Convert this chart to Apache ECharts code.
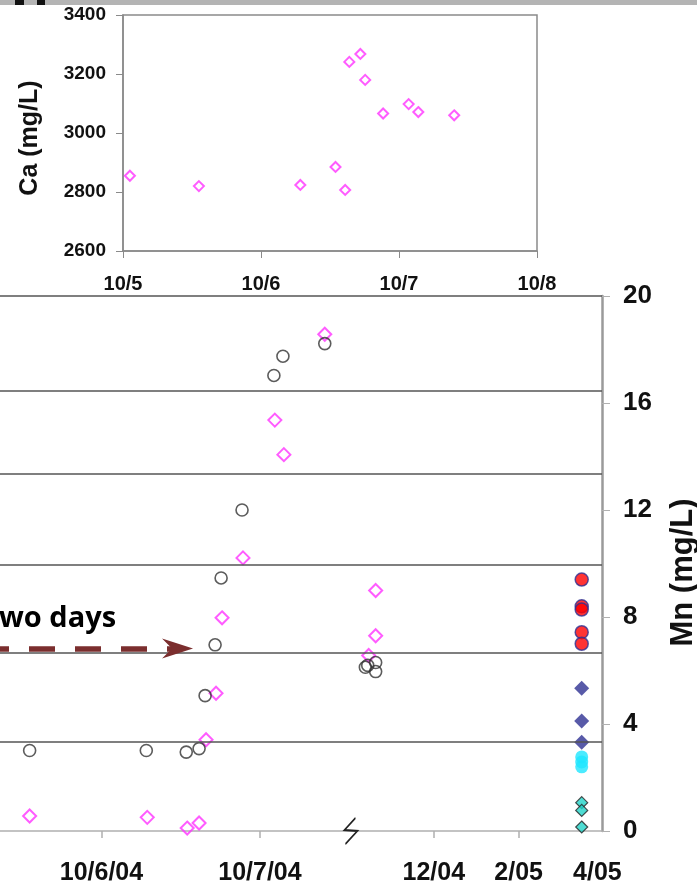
<!DOCTYPE html>
<html>
<head>
<meta charset="utf-8">
<script src="https://cdn.jsdelivr.net/npm/echarts@6/dist/echarts.min.js"></script>
<style>
  html, body { margin: 0; padding: 0; background: #fff; }
  #chart { width: 697px; height: 890px; }
</style>
</head>
<body>
<div id="chart"></div>
<script>
// ---------- Top chart: Ca (mg/L) vs date (day of October 2004) ----------
const caDates  = [5.05, 5.55, 6.285, 6.54, 6.61, 6.64, 6.72, 6.755, 6.885, 7.07, 7.14, 7.40];
const caValues = [2855, 2820, 2824, 2885, 2807, 3241, 3268, 3180, 3066, 3098, 3071, 3060];
const caTickLabels = ['10/5', '10/6', '10/7', '10/8'];

// ---------- Bottom chart: Mn (mg/L), compressed time axis with break ----------
// x in days of October 2004 for the Oct samples; later months are on the compressed part of the axis
const mnCircleDates  = [5.547, 6.283, 6.535, 6.616, 6.654, 6.717, 6.755, 6.887, 7.088, 7.145, 7.409, 7.665, 7.680, 7.730, 7.730];
const mnCircleValues = [3.01, 3.01, 2.95, 3.08, 5.06, 6.96, 9.46, 12.0, 17.03, 17.75, 18.22, 6.12, 6.19, 6.30, 5.96];
const mnDiamondDates  = [5.547, 6.289, 6.541, 6.616, 6.660, 6.723, 6.761, 6.893, 7.094, 7.151, 7.409, 7.686, 7.730, 7.730];
const mnDiamondValues = [0.56, 0.51, 0.11, 0.30, 3.41, 5.15, 7.97, 10.21, 15.36, 14.07, 18.57, 6.56, 7.30, 8.99];

const apr05Pos = 9.03;  // position of the 4/05 samples on the compressed axis
const redCircleValues   = [9.40, 8.40, 8.28, 7.43, 7.00];
const navyDiamondValues = [5.34, 4.11, 3.32];
const cyanCircleValues  = [2.77, 2.58, 2.40];
const tealDiamondValues = [1.06, 0.77, 0.15];

const mnTickValues = [6, 7, 8.097, 8.632];
const mnLabelValues = [6, 7, 8.097, 8.632, 9.129];
const mnTickLabels = ['10/6/04', '10/7/04', '12/04', '2/05', '4/05'];
const mnAxisBreakAt = 7.574;

const refLines = [20, 16.46, 13.35, 9.96, 6.65, 3.32];
const arrowLevel = 6.82;
const arrowEnd = 6.48;

const pairs = (xs, ys) => xs.map((x, i) => [x, ys[i]]);
const atApr = ys => ys.map(y => [apr05Pos, y]);

const SANS = '"Liberation Sans", Arial, sans-serif';

const chart = echarts.init(document.getElementById('chart'), null, { renderer: 'canvas' });

const option = {
  backgroundColor: '#ffffff',
  animation: false,
  graphic: [
    { type: 'rect', shape: { x: 0, y: 0, width: 697, height: 5 }, style: { fill: '#b4b4b4' }, silent: true },
    { type: 'rect', shape: { x: 15, y: 0, width: 9, height: 5 }, style: { fill: '#111' }, silent: true },
    { type: 'rect', shape: { x: 37, y: 0, width: 8, height: 5 }, style: { fill: '#111' }, silent: true },
    { type: 'text', left: -1, top: 604, style: { text: 'wo days', font: 'bold 29px "Open Sans", sans-serif', fill: '#000' }, silent: true }
  ],
  grid: [
    { left: 123, top: 15, width: 414, height: 236, show: true, borderColor: '#8a8a8a', borderWidth: 1.5, outerBoundsMode: 'none', containLabel: false },
    { left: 0, top: 296, width: 602, height: 535, outerBoundsMode: 'none', containLabel: false }
  ],
  xAxis: [
    {
      type: 'value', gridIndex: 0, min: 5, max: 8, interval: 1,
      axisLine: { show: true, lineStyle: { color: '#8a8a8a', width: 1.5 } },
      axisTick: { show: true, length: 7, lineStyle: { color: '#8a8a8a' } },
      splitLine: { show: false },
      axisLabel: {
        margin: 23, color: '#111', fontFamily: SANS, fontWeight: 'bold', fontSize: 20,
        formatter: v => caTickLabels[Math.round(v - 5)]
      }
    },
    {
      type: 'value', gridIndex: 1, min: 5.36, max: 9.158,
      axisLine: { show: true, lineStyle: { color: '#b0b0b0', width: 1.5 } },
      axisTick: { show: true, length: 7, customValues: mnTickValues, lineStyle: { color: '#b0b0b0', width: 1.5 } },
      splitLine: { show: false },
      axisLabel: {
        customValues: mnLabelValues, margin: 30, color: '#111', fontFamily: SANS, fontWeight: 'bold', fontSize: 25,
        formatter: v => {
          let best = 0;
          mnLabelValues.forEach((t, i) => { if (Math.abs(t - v) < Math.abs(mnLabelValues[best] - v)) best = i; });
          return mnTickLabels[best];
        }
      }
    }
  ],
  yAxis: [
    {
      type: 'value', gridIndex: 0, min: 2600, max: 3400, interval: 200,
      axisLine: { show: true, lineStyle: { color: '#8a8a8a', width: 1.5 } },
      axisTick: { show: true, length: 7, lineStyle: { color: '#8a8a8a' } },
      splitLine: { show: false },
      axisLabel: { margin: 17, color: '#111', fontFamily: SANS, fontWeight: 'bold', fontSize: 19, formatter: v => String(v) },
      name: 'Ca (mg/L)', nameLocation: 'middle', nameGap: 80,
      nameTextStyle: { color: '#111', fontFamily: SANS, fontWeight: 'bold', fontSize: 25, padding: [0, 10, 0, 0] }
    },
    {
      type: 'value', gridIndex: 1, position: 'right', min: 0, max: 20, interval: 4,
      axisLine: { show: true, lineStyle: { color: '#9a9a9a', width: 2.5 } },
      axisTick: { show: true, length: 8, lineStyle: { color: '#b0b0b0' } },
      splitLine: { show: false },
      axisLabel: { margin: 21, color: '#111', fontFamily: SANS, fontWeight: 'bold', fontSize: 26, formatter: v => String(v) },
      name: 'Mn (mg/L)', nameLocation: 'middle', nameGap: 66,
      nameTextStyle: { color: '#111', fontFamily: SANS, fontWeight: 'bold', fontSize: 31, padding: [0, 18, 0, 0] }
    }
  ],
  series: [
    {
      name: 'Ca', type: 'scatter', xAxisIndex: 0, yAxisIndex: 0,
      symbol: 'diamond', symbolSize: 10,
      itemStyle: { color: 'rgba(0,0,0,0)', borderColor: '#ff33ff', borderWidth: 2 },
      data: pairs(caDates, caValues)
    },
    {
      name: 'Mn diamonds', type: 'scatter', xAxisIndex: 1, yAxisIndex: 1,
      symbol: 'diamond', symbolSize: 13,
      itemStyle: { color: 'rgba(0,0,0,0)', borderColor: '#ff33ff', borderWidth: 2 },
      data: pairs(mnDiamondDates, mnDiamondValues),
      markLine: {
        silent: true, symbol: ['none', 'none'], label: { show: false },
        lineStyle: { color: '#555', width: 1.6, type: 'solid' },
        data: refLines.map(v => ({ yAxis: v }))
      }
    },
    {
      name: 'Mn circles', type: 'scatter', xAxisIndex: 1, yAxisIndex: 1,
      symbol: 'circle', symbolSize: 12,
      itemStyle: { color: 'rgba(0,0,0,0)', borderColor: '#333', borderWidth: 1.6 },
      data: pairs(mnCircleDates, mnCircleValues),
      markLine: {
        silent: true, label: { show: false },
        symbol: ['none', 'path://M10,0 L20,31 L10,21 L0,31 Z'], symbolSize: 31, symbolKeepAspect: true,
        lineStyle: { color: '#7b2e2e', width: 5.5, type: [26, 20], dashOffset: 17 },
        itemStyle: { color: '#7b2e2e' },
        data: [[{ coord: [5.36, arrowLevel] }, { coord: [arrowEnd, arrowLevel] }]]
      },
      markPoint: {
        silent: true,
        symbol: 'path://M11,0 L0,12 L13,13 L1,26', symbolSize: [13, 26], symbolKeepAspect: false,
        itemStyle: { color: 'rgba(0,0,0,0)', borderColor: '#222', borderWidth: 1.5 },
        label: { show: false },
        data: [{ coord: [mnAxisBreakAt, 0] }]
      }
    },
    {
      name: 'Red', type: 'scatter', xAxisIndex: 1, yAxisIndex: 1,
      symbol: 'circle', symbolSize: 13,
      itemStyle: { color: '#ff0000', borderColor: '#2e3192', borderWidth: 1.5 },
      data: atApr(redCircleValues)
    },
    {
      name: 'Navy', type: 'scatter', xAxisIndex: 1, yAxisIndex: 1,
      symbol: 'diamond', symbolSize: 15,
      itemStyle: { color: '#2e3192' },
      data: atApr(navyDiamondValues)
    },
    {
      name: 'Cyan', type: 'scatter', xAxisIndex: 1, yAxisIndex: 1,
      symbol: 'circle', symbolSize: 13,
      itemStyle: { color: '#1ee6ff' },
      data: atApr(cyanCircleValues)
    },
    {
      name: 'Teal', type: 'scatter', xAxisIndex: 1, yAxisIndex: 1,
      symbol: 'diamond', symbolSize: 12,
      itemStyle: { color: '#22d3c8', borderColor: '#222', borderWidth: 1.2 },
      data: atApr(tealDiamondValues)
    }
  ]
};

chart.setOption(option);
</script>
</body>
</html>
